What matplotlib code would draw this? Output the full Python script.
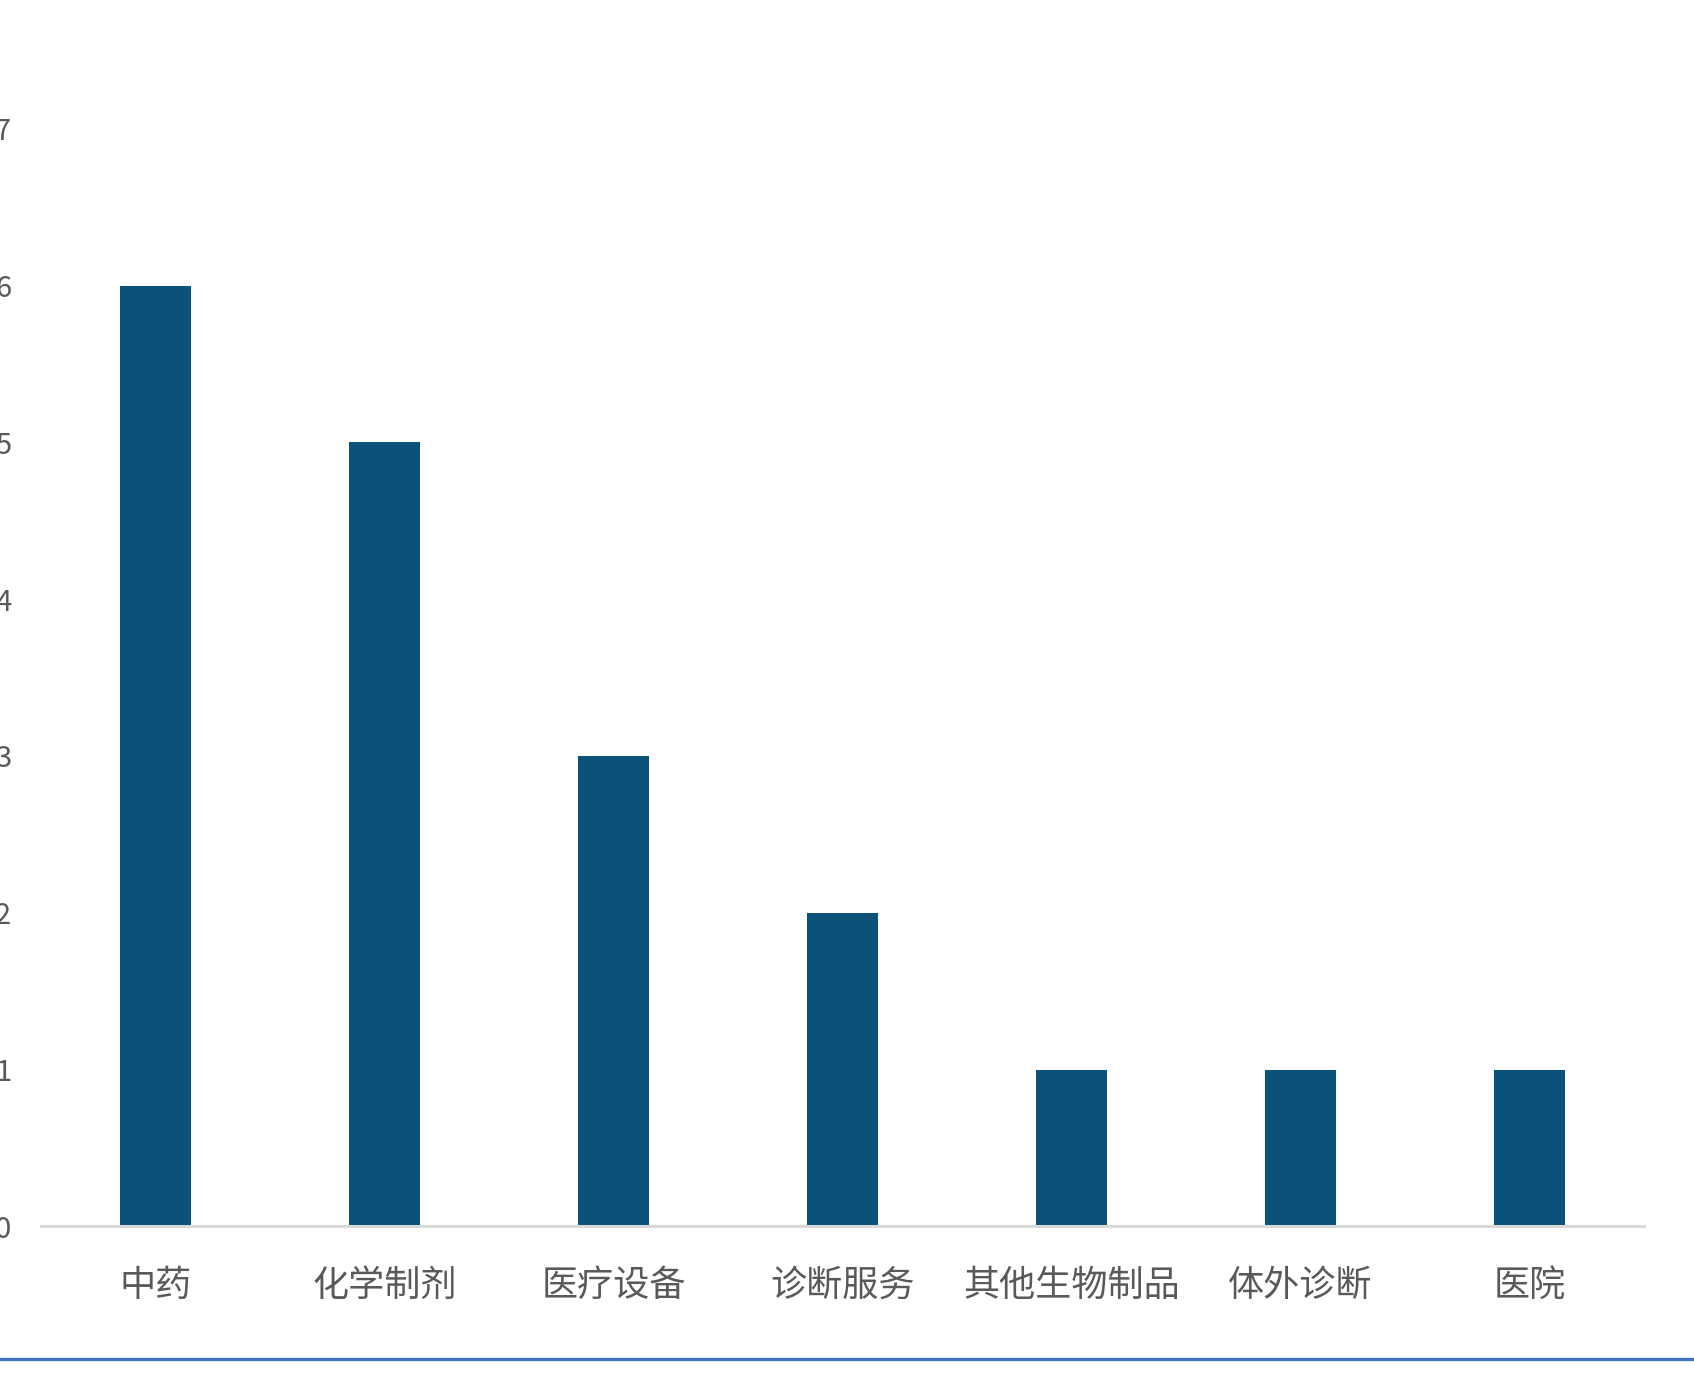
import matplotlib
matplotlib.use("Agg")
import matplotlib.pyplot as plt
from matplotlib.lines import Line2D

plt.rcParams['font.family'] = ['Noto Sans CJK SC', 'DejaVu Sans']

categories = ["中药", "化学制剂", "医疗设备", "诊断服务", "其他生物制品", "体外诊断", "医院"]
values = [6, 5, 3, 2, 1, 1, 1]
yticks = [0, 1, 2, 3, 4, 5, 6, 7]

W, H = 1694, 1389
fig = plt.figure(figsize=(W / 100, H / 100), dpi=100)
left, right = 41 / W, 1644 / W
bottom, top = (H - 1226.3) / H, (H - 128.9) / H
ax = fig.add_axes([left, bottom, right - left, top - bottom])

x = list(range(len(categories)))
ax.bar(x, values, width=0.312, color='#0A527A', zorder=2)

ax.set_xlim(-0.5, len(categories) - 0.5)
ax.set_ylim(0, 7)
ax.set_yticks(yticks)
ax.set_yticklabels([str(t) for t in yticks])
ax.set_xticks(x)
ax.set_xticklabels(categories)

for s in ['top', 'right', 'left']:
    ax.spines[s].set_visible(False)
ax.spines['bottom'].set_color('#D9D9D9')
ax.spines['bottom'].set_linewidth(2.2)
ax.spines['bottom'].set_zorder(3)

ax.tick_params(axis='y', length=0, pad=21.5, labelsize=21, labelcolor='#595959')
ax.tick_params(axis='x', length=0, pad=30, labelsize=26, labelcolor='#595959')

fig.add_artist(Line2D([0, 1], [(H - 1359) / H, (H - 1359) / H],
                      transform=fig.transFigure, color='#4472C4', linewidth=2.4))

fig.savefig('out.png', dpi=100, facecolor='white')
